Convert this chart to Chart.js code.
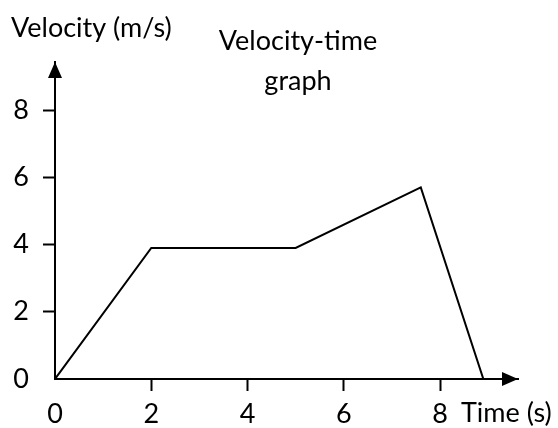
<!DOCTYPE html>
<html>
<head>
<meta charset="utf-8">
<script src="https://cdn.jsdelivr.net/npm/chart.js@4"></script>
<style>
  html, body { margin: 0; padding: 0; background: #fff; }
  #wrap { width: 558px; height: 428px; }
</style>
</head>
<body>
<div id="wrap"><canvas id="myChart" width="558" height="428"></canvas></div>
<script>
// data
var times = [0, 2, 5, 7.6, 8.9];
var velocity = [0, 3.9, 3.9, 5.7, 0];
var xTicks = [0, 2, 4, 6, 8];
var yTicks = [0, 2, 4, 6, 8];

var FONT = 'Lato, "DejaVu Sans", sans-serif';

// arrows + loose labels
var extras = {
    id: 'extras',
    afterDraw: function(chart) {
        var ctx = chart.ctx;
        var a = chart.chartArea;
        var ox = chart.scales.x.left;
        var oy = chart.scales.y.bottom;
        ctx.save();
        ctx.fillStyle = '#000';
        // y arrow
        ctx.beginPath();
        ctx.moveTo(ox, a.top);
        ctx.lineTo(ox - 7, a.top + 16);
        ctx.lineTo(ox + 7, a.top + 16);
        ctx.closePath();
        ctx.fill();
        // x arrow
        ctx.beginPath();
        ctx.moveTo(a.right, oy);
        ctx.lineTo(a.right - 16, oy - 7);
        ctx.lineTo(a.right - 16, oy + 7);
        ctx.closePath();
        ctx.fill();

        ctx.font = '27px ' + FONT;
        ctx.textBaseline = 'middle';
        ctx.textAlign = 'left';
        ctx.fillText('Velocity (m/s)', 11, 28);
        ctx.fillText('Time (s)', 461, 413);
        ctx.textAlign = 'center';
        ctx.fillText('Velocity-time', 298, 41);
        ctx.fillText('graph', 298, 81);
        ctx.restore();
    }
};

var hideZero = function(c) { return c.tick && c.tick.value === 0 ? 'rgba(0,0,0,0)' : '#000'; };

var ctx = document.getElementById('myChart').getContext('2d');
var chart = new Chart(ctx, {
    type: 'scatter',
    data: {
        datasets: [{
            label: 'Velocity',
            data: times.map(function(t, i) { return { x: t, y: velocity[i] }; }),
            showLine: true,
            borderColor: '#000',
            borderWidth: 2,
            pointRadius: 0,
            fill: false
        }]
    },
    options: {
        responsive: false,
        animation: false,
        layout: { padding: { top: 62, right: 40, left: 0, bottom: 0 } },
        plugins: {
            legend: { display: false },
            tooltip: { enabled: false }
        },
        scales: {
            x: {
                type: 'linear',
                min: 0,
                max: 9.62,
                afterFit: function(s) { s.height = 49; },
                afterBuildTicks: function(s) { s.ticks = xTicks.map(function(v) { return { value: v }; }); },
                border: { color: '#000', width: 2 },
                grid: { drawOnChartArea: false, drawTicks: true, tickLength: 12, tickWidth: 2, color: hideZero },
                ticks: { color: '#000', padding: 7, font: { family: FONT, size: 27 } }
            },
            y: {
                type: 'linear',
                min: 0,
                max: 9.43,
                afterFit: function(s) { s.width = 55; },
                afterBuildTicks: function(s) { s.ticks = yTicks.map(function(v) { return { value: v }; }); },
                border: { color: '#000', width: 2 },
                grid: { drawOnChartArea: false, drawTicks: true, tickLength: 12, tickWidth: 2, color: hideZero },
                ticks: { color: '#000', padding: 14, font: { family: FONT, size: 27 } }
            }
        }
    },
    plugins: [extras]
});
</script>
</body>
</html>
